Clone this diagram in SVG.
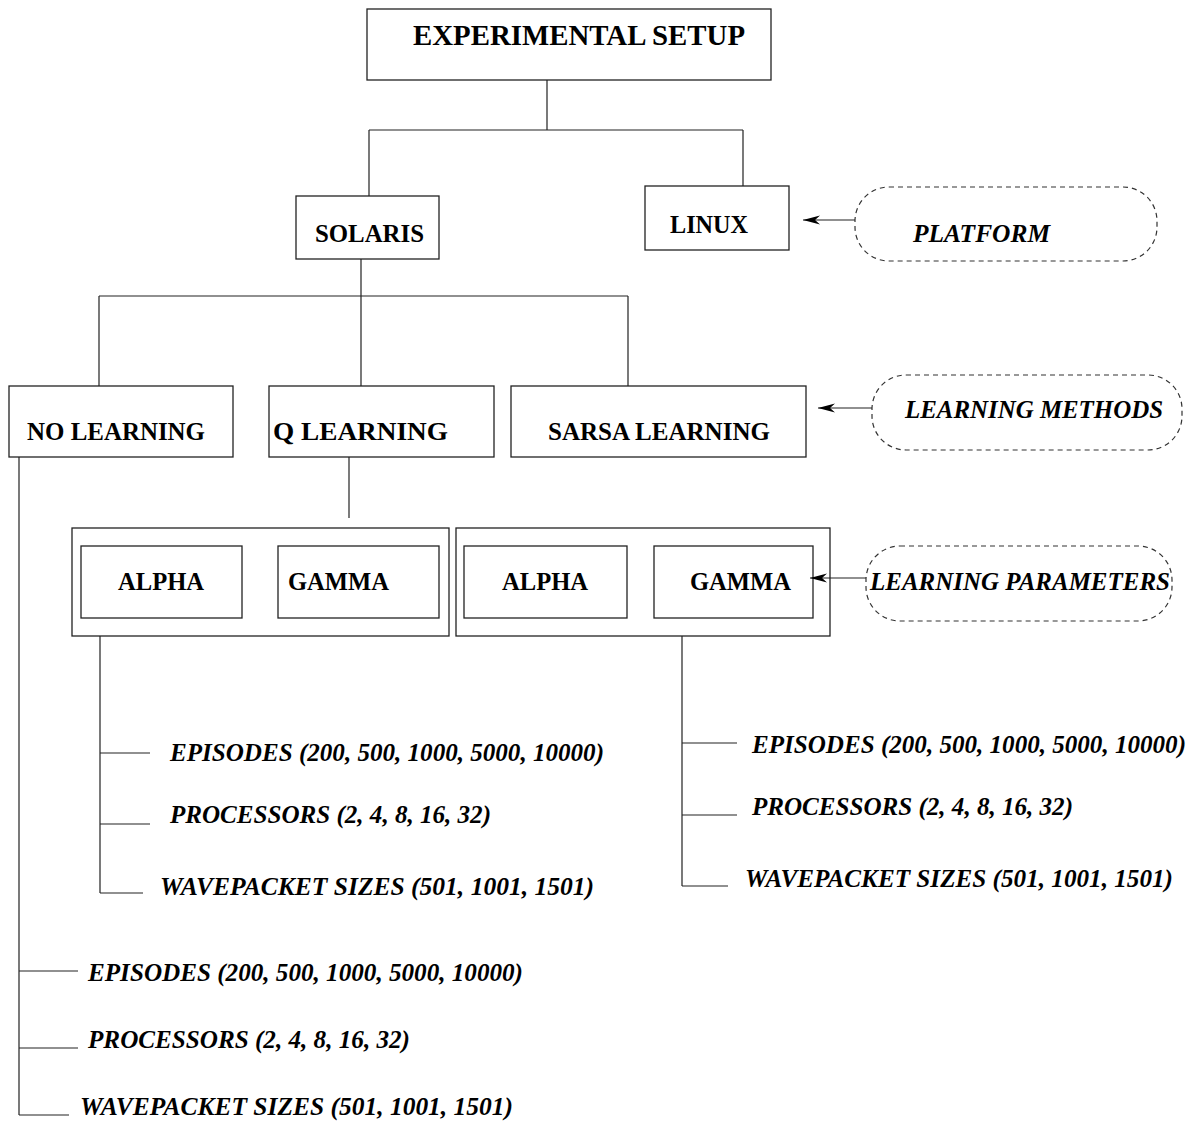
<svg xmlns="http://www.w3.org/2000/svg" width="1199" height="1126" viewBox="0 0 1199 1126">
<defs>
<style>
.box{fill:#fff;stroke:#222;stroke-width:1.3}
.dash{fill:none;stroke:#333;stroke-width:1.2;stroke-dasharray:5 4}
.ln{fill:none;stroke:#222;stroke-width:1.2}
.t{font-family:"Liberation Serif","Times New Roman",serif;font-weight:bold;fill:#000}
.ti{font-family:"Liberation Serif","Times New Roman",serif;font-weight:bold;font-style:italic;fill:#000}
</style>
<marker id="arr" markerWidth="18" markerHeight="10" refX="17" refY="5" orient="auto" markerUnits="userSpaceOnUse">
<path d="M0,0.5 L17,5 L0,9.5 L5,5 z" fill="#000"/>
</marker>
</defs>
<rect width="1199" height="1126" fill="#fff"/>
<g id="setup"><rect class="box" x="367" y="9" width="404" height="71"/><text class="t" x="413" y="45" font-size="29" textLength="332" lengthAdjust="spacingAndGlyphs">EXPERIMENTAL SETUP</text></g>
<g id="solaris"><rect class="box" x="296" y="196" width="143" height="63"/><text class="t" x="315" y="242" font-size="26" textLength="109" lengthAdjust="spacingAndGlyphs">SOLARIS</text></g>
<g id="linux"><rect class="box" x="645" y="186" width="144" height="64"/><text class="t" x="670" y="233" font-size="26" textLength="78" lengthAdjust="spacingAndGlyphs">LINUX</text></g>
<g id="platform"><rect class="dash" x="855" y="187" width="302" height="74" rx="34" ry="34"/><text class="ti" x="913" y="242" font-size="25" textLength="137" lengthAdjust="spacingAndGlyphs">PLATFORM</text></g>
<g id="no-learning"><rect class="box" x="9" y="386" width="224" height="71"/><text class="t" x="27" y="440" font-size="26" textLength="178" lengthAdjust="spacingAndGlyphs">NO LEARNING</text></g>
<g id="q-learning"><rect class="box" x="269" y="386" width="225" height="71"/><text class="t" x="273" y="440" font-size="26" textLength="175" lengthAdjust="spacingAndGlyphs">Q LEARNING</text></g>
<g id="sarsa-learning"><rect class="box" x="511" y="386" width="295" height="71"/><text class="t" x="548" y="440" font-size="26" textLength="222" lengthAdjust="spacingAndGlyphs">SARSA LEARNING</text></g>
<g id="learning-methods"><rect class="dash" x="872" y="375" width="310" height="75" rx="34" ry="34"/><text class="ti" x="905" y="418" font-size="26" textLength="258" lengthAdjust="spacingAndGlyphs">LEARNING METHODS</text></g>
<g id="params-q"><rect class="box" x="72" y="528" width="377" height="108"/>
<rect class="box" x="81" y="546" width="161" height="72"/><text class="t" x="118" y="590" font-size="26" textLength="86" lengthAdjust="spacingAndGlyphs">ALPHA</text>
<rect class="box" x="278" y="546" width="161" height="72"/><text class="t" x="288" y="590" font-size="26" textLength="101" lengthAdjust="spacingAndGlyphs">GAMMA</text></g>
<g id="params-sarsa"><rect class="box" x="456" y="528" width="374" height="108"/>
<rect class="box" x="464" y="546" width="163" height="72"/><text class="t" x="502" y="590" font-size="26" textLength="86" lengthAdjust="spacingAndGlyphs">ALPHA</text>
<rect class="box" x="654" y="546" width="159" height="72"/><text class="t" x="690" y="590" font-size="26" textLength="101" lengthAdjust="spacingAndGlyphs">GAMMA</text></g>
<g id="learning-parameters"><rect class="dash" x="866" y="546" width="306" height="75" rx="34" ry="34"/><text class="ti" x="870" y="590" font-size="26" textLength="300" lengthAdjust="spacingAndGlyphs">LEARNING PARAMETERS</text></g>
<g id="list-q">
<text class="ti" x="170" y="761" font-size="25" textLength="434" lengthAdjust="spacingAndGlyphs">EPISODES (200, 500, 1000, 5000, 10000)</text>
<text class="ti" x="170" y="823" font-size="25" textLength="321" lengthAdjust="spacingAndGlyphs">PROCESSORS (2, 4, 8, 16, 32)</text>
<text class="ti" x="160" y="895" font-size="25" textLength="434" lengthAdjust="spacingAndGlyphs">WAVEPACKET SIZES (501, 1001, 1501)</text>
</g>
<g id="list-sarsa">
<text class="ti" x="752" y="753" font-size="25" textLength="434" lengthAdjust="spacingAndGlyphs">EPISODES (200, 500, 1000, 5000, 10000)</text>
<text class="ti" x="752" y="815" font-size="25" textLength="321" lengthAdjust="spacingAndGlyphs">PROCESSORS (2, 4, 8, 16, 32)</text>
<text class="ti" x="745" y="887" font-size="25" textLength="428" lengthAdjust="spacingAndGlyphs">WAVEPACKET SIZES (501, 1001, 1501)</text>
</g>
<g id="list-none">
<text class="ti" x="88" y="981" font-size="25" textLength="435" lengthAdjust="spacingAndGlyphs">EPISODES (200, 500, 1000, 5000, 10000)</text>
<text class="ti" x="88" y="1048" font-size="25" textLength="322" lengthAdjust="spacingAndGlyphs">PROCESSORS (2, 4, 8, 16, 32)</text>
<text class="ti" x="80" y="1115" font-size="25" textLength="433" lengthAdjust="spacingAndGlyphs">WAVEPACKET SIZES (501, 1001, 1501)</text>
</g>
<g id="connectors">
<path class="ln" d="M547,80 V130 M369,130 H743 M369,130 V196 M743,130 V186"/>
<path class="ln" d="M361,259 V386 M99,296 H628 M99,296 V386 M628,296 V386"/>
<path class="ln" d="M349,457 V518"/>
<path class="ln" d="M100,636 V893 M100,753 H150 M100,824 H150 M100,893 H143"/>
<path class="ln" d="M682,636 V886 M682,743 H737 M682,815 H737 M682,886 H728"/>
<path class="ln" d="M19,457 V1115 M19,971 H78 M19,1048 H78 M19,1115 H69"/>
<line class="ln" x1="855" y1="220" x2="803" y2="220" marker-end="url(#arr)"/>
<line class="ln" x1="872" y1="408" x2="818" y2="408" marker-end="url(#arr)"/>
<line class="ln" x1="866" y1="578" x2="810" y2="578" marker-end="url(#arr)"/>
</g>
</svg>
